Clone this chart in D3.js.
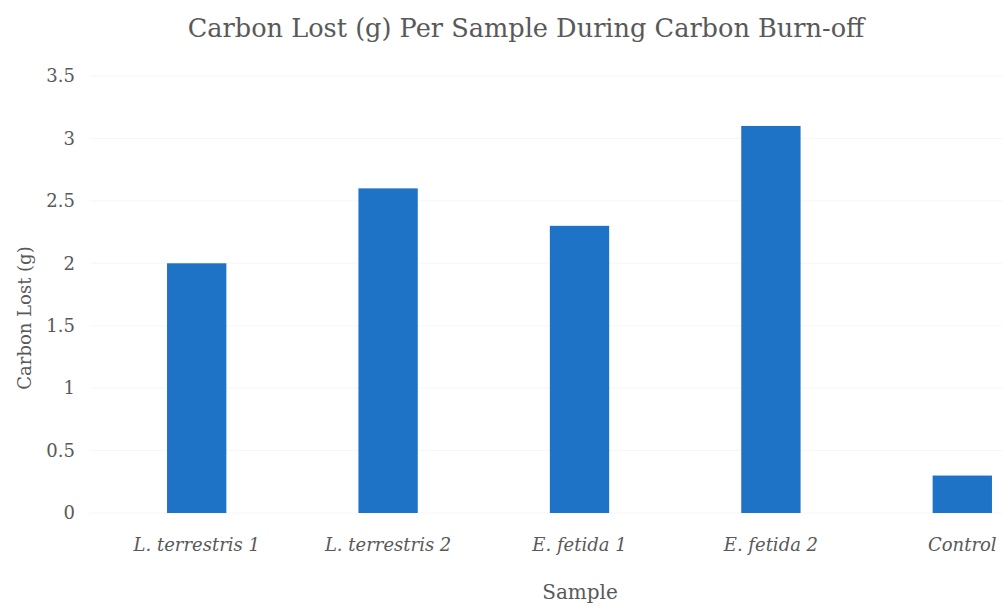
<!DOCTYPE html>
<html>
<head>
<meta charset="utf-8">
<script src="https://cdn.jsdelivr.net/npm/d3@7"></script>
<style>
  html, body { margin: 0; padding: 0; background: #fff; }
  svg { display: block; }
  text { font-family: "DejaVu Serif", serif; fill: #595959; }
</style>
</head>
<body>
<svg id="chart" width="1002" height="606"></svg>
<script>
// Carbon lost per sample (g)
const samples = ["L. terrestris 1", "L. terrestris 2", "E. fetida 1", "E. fetida 2", "Control"];
const carbonLost = [2.0, 2.6, 2.3, 3.1, 0.3];
const yTicks = [0, 0.5, 1, 1.5, 2, 2.5, 3, 3.5];

const svg = d3.select("#chart");
const margin = { left: 101, right: -56, top: 76, bottom: 93 };
const W = 1002, H = 606;

const x = d3.scaleBand()
  .domain(samples)
  .range([margin.left, W - margin.right])
  .paddingInner(0.69)
  .paddingOuter(0.345);

const y = d3.scaleLinear()
  .domain([0, 3.5])
  .range([H - margin.bottom, margin.top]);

// faint horizontal gridlines
svg.append("g")
  .selectAll("line")
  .data(yTicks)
  .join("line")
  .attr("x1", 90).attr("x2", W)
  .attr("y1", d => y(d)).attr("y2", d => y(d))
  .attr("stroke", "#f6f6f6")
  .attr("stroke-width", 1);

// bars
svg.append("g")
  .selectAll("rect")
  .data(samples)
  .join("rect")
  .attr("x", d => x(d))
  .attr("width", x.bandwidth())
  .attr("y", (d, i) => y(carbonLost[i]))
  .attr("height", (d, i) => y(0) - y(carbonLost[i]))
  .attr("fill", "#1f73c6");

// y axis labels
const yAxis = d3.axisLeft(y).tickValues(yTicks).tickSize(0).tickPadding(0)
  .tickFormat(d3.format("~g"));
const gy = svg.append("g").attr("transform", "translate(75,0)").call(yAxis);
gy.select(".domain").remove();
gy.selectAll("text")
  .style("font-size", "18px")
  .style("font-family", null)
  .attr("fill", "#595959");

// x axis labels
const xAxis = d3.axisBottom(x).tickSize(0).tickPadding(0);
const gx = svg.append("g").attr("transform", `translate(0,${y(0) + 25})`).call(xAxis);
gx.select(".domain").remove();
gx.selectAll("text")
  .style("font-size", "18px")
  .style("font-style", "italic")
  .style("font-family", null)
  .attr("fill", "#595959");

// title
svg.append("text")
  .attr("x", 526).attr("y", 37)
  .attr("text-anchor", "middle")
  .style("font-size", "25.6px")
  .text("Carbon Lost (g) Per Sample During Carbon Burn-off");

// axis titles
svg.append("text")
  .attr("x", 580).attr("y", 599)
  .attr("text-anchor", "middle")
  .style("font-size", "20px")
  .text("Sample");

svg.append("text")
  .attr("transform", "translate(31,318) rotate(-90)")
  .attr("text-anchor", "middle")
  .style("font-size", "18px")
  .text("Carbon Lost (g)");
</script>
</body>
</html>
